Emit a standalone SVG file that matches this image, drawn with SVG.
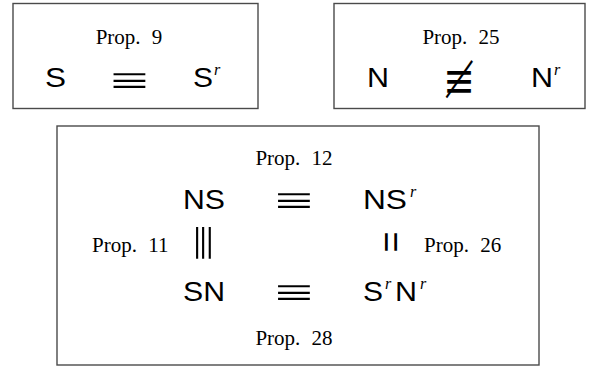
<svg xmlns="http://www.w3.org/2000/svg" width="598" height="366" viewBox="0 0 598 366">
  <style>
    .box{fill:#fff;stroke:#4a4a4a;stroke-width:1.4}
    .lbl{font-family:"Liberation Serif","Times New Roman",serif;font-size:21px;fill:#000;word-spacing:6px;text-anchor:middle}
    .lbl-s{font-family:"Liberation Serif","Times New Roman",serif;font-size:21px;fill:#000;word-spacing:6px}
    .sym{font-family:"Liberation Sans",Arial,sans-serif;font-size:28px;fill:#000}
    .sup{font-family:"Liberation Serif","Times New Roman",serif;font-style:italic;font-size:16px;fill:#000}
    .op{font-family:"Liberation Serif","Times New Roman",serif;font-size:36px;fill:#000;text-anchor:middle}
    .nop{font-family:"DejaVu Serif",serif;font-size:36px;fill:#000;text-anchor:middle}
  </style>

  <rect width="598" height="366" fill="#fff"/>

  <!-- Prop. 9: S is congruent to its reverse -->
  <g id="prop9">
    <rect class="box" x="13" y="3.5" width="245" height="105"/>
    <text class="lbl" x="129" y="44">Prop. 9</text>
    <text class="sym" x="45" y="87" textLength="21" lengthAdjust="spacingAndGlyphs">S</text>
    <text class="op" transform="translate(129.5 81) scale(1.9 1.2)" y="12">≡</text>
    <text class="sym" x="193" y="87" textLength="20" lengthAdjust="spacingAndGlyphs">S</text>
    <text class="sup" x="214" y="75">r</text>
  </g>

  <!-- Prop. 25: N is not congruent to its reverse -->
  <g id="prop25">
    <rect class="box" x="334" y="3.5" width="251" height="105"/>
    <text class="lbl" x="461" y="44">Prop. 25</text>
    <text class="sym" x="367" y="87" textLength="22" lengthAdjust="spacingAndGlyphs">N</text>
    <text class="nop" transform="translate(459 81) scale(1.05 1.35)" y="12">≢</text>
    <text class="sym" x="531" y="87" textLength="22" lengthAdjust="spacingAndGlyphs">N</text>
    <text class="sup" x="554" y="75">r</text>
  </g>

  <!-- Props. 11, 12, 26, 28: square of relations between NS, SN and reverses -->
  <g id="square">
    <rect class="box" x="57" y="126" width="482" height="239"/>
    <text class="lbl" x="294" y="165">Prop. 12</text>
    <text class="sym" x="183" y="209" textLength="42" lengthAdjust="spacingAndGlyphs">NS</text>
    <text class="op" transform="translate(294 201) scale(1.9 1.2)" y="12">≡</text>
    <text class="sym" x="363" y="209" textLength="44" lengthAdjust="spacingAndGlyphs">NS</text>
    <text class="sup" x="410" y="197">r</text>

    <text class="lbl-s" x="92" y="252">Prop. 11</text>
    <text class="op" transform="translate(203 243) rotate(90) scale(1.9 1.2)" y="12">≡</text>
    <text class="sym" transform="translate(390 242) rotate(90)" y="11" text-anchor="middle" style="font-size:36px">=</text>
    <text class="lbl-s" x="424" y="252">Prop. 26</text>

    <text class="sym" x="183" y="301" textLength="42" lengthAdjust="spacingAndGlyphs">SN</text>
    <text class="op" transform="translate(294 293) scale(1.9 1.2)" y="12">≡</text>
    <text class="sym" x="363" y="301" textLength="20" lengthAdjust="spacingAndGlyphs">S</text>
    <text class="sup" x="385" y="289">r</text>
    <text class="sym" x="395" y="301" textLength="22" lengthAdjust="spacingAndGlyphs">N</text>
    <text class="sup" x="420" y="289">r</text>
    <text class="lbl" x="294" y="345">Prop. 28</text>
  </g>
</svg>
